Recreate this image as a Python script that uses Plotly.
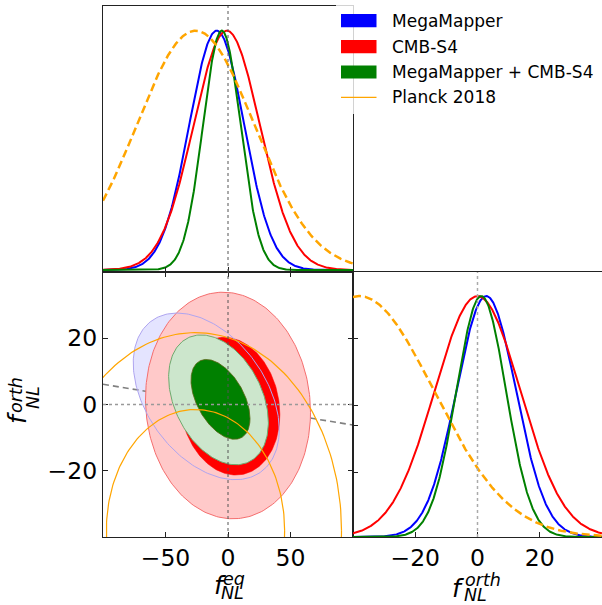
import numpy as np
import plotly.graph_objects as go

# ---------------- data ----------------
experiments = ["MegaMapper", "CMB-S4", "MegaMapper + CMB-S4", "Planck 2018"]
exp_colors = ["blue", "red", "green", "orange"]

# 1D marginals (peak-normalised Gaussians): mean and sigma
feq_mean = [-9.0, -1.0, -5.0, -26.0]
feq_sigma = [22.0, 26.5, 15.0, 47.0]
forth_mean = [2.8, 0.0, 1.2, -38.0]
forth_sigma = [9.6, 13.8, 8.0, 24.0]

# 2D contours: centre, half-extent in f_eq, half-extent in f_orth, correlation
contour_labels = ["MM 95%", "S4 95%", "S4 68%", "MM+S4 95%", "MM+S4 68%", "Planck 68%", "Planck 95%"]
contour_cx = [-17.4, 0.0, 1.5, -7.6, -6.0, -26.0, -26.0]
contour_cy = [2.45, -0.3, -0.5, 1.4, 1.55, -38.0, -38.0]
contour_hx = [58.4, 66.0, 40.0, 39.9, 23.6, 71.3, 116.8]
contour_hy = [25.15, 34.2, 20.8, 19.6, 12.05, 36.5, 59.7]
contour_rho = [-0.40, -0.06, -0.12, -0.35, -0.48, 0.0, 0.0]

# degeneracy direction (grey dashed line) end points
degen_feq = [-100.0, 100.0]
degen_forth = [6.1, -6.2]

fiducial = [0.0, 0.0]

feq_ticks = [-50, 0, 50]
forth_ticks = [-20, 0, 20]
forth1d_ticks = [-20, 0, 20]
forth1d_yticks = [0.268, 0.463, 0.546, 0.824]

# ---------------- helpers ----------------
def gauss(x, m, s):
    return np.exp(-0.5 * ((x - m) / s) ** 2)

def ellipse(i, n=240):
    t = np.linspace(0, 2 * np.pi, n)
    r = contour_rho[i]
    x = contour_cx[i] + contour_hx[i] * np.cos(t)
    y = contour_cy[i] + contour_hy[i] * (r * np.cos(t) + np.sqrt(1 - r * r) * np.sin(t))
    return x, y

fig = go.Figure()

# ---------------- top-left: f_eq marginal ----------------
xe = np.linspace(-100, 100, 500)
for k in [0, 1, 2]:
    fig.add_trace(go.Scatter(x=xe, y=gauss(xe, feq_mean[k], feq_sigma[k]), mode="lines",
                             line=dict(color=exp_colors[k], width=2), xaxis="x", yaxis="y",
                             hoverinfo="skip"))
fig.add_trace(go.Scatter(x=xe, y=gauss(xe, feq_mean[3], feq_sigma[3]), mode="lines",
                         line=dict(color="orange", width=2.5, dash="8px,4px"), xaxis="x", yaxis="y",
                         hoverinfo="skip"))

# ---------------- bottom-right: f_orth marginal ----------------
xo = np.linspace(-40, 40, 500)
for k in [0, 1, 2]:
    fig.add_trace(go.Scatter(x=xo, y=gauss(xo, forth_mean[k], forth_sigma[k]), mode="lines",
                             line=dict(color=exp_colors[k], width=2), xaxis="x3", yaxis="y3",
                             hoverinfo="skip"))
fig.add_trace(go.Scatter(x=xo, y=gauss(xo, forth_mean[3], forth_sigma[3]), mode="lines",
                         line=dict(color="orange", width=2.5, dash="8px,4px"), xaxis="x3", yaxis="y3",
                         hoverinfo="skip"))

# ---------------- bottom-left: 2D ----------------
def add_fill(i, fill, line_color, lw):
    x, y = ellipse(i)
    fig.add_trace(go.Scatter(x=x, y=y, mode="lines", fill="toself", fillcolor=fill,
                             line=dict(color=line_color, width=lw), xaxis="x2", yaxis="y2",
                             hoverinfo="skip"))

def add_line(i, line_color, lw):
    x, y = ellipse(i)
    fig.add_trace(go.Scatter(x=x, y=y, mode="lines",
                             line=dict(color=line_color, width=lw), xaxis="x2", yaxis="y2",
                             hoverinfo="skip"))

add_fill(0, "rgb(228,228,255)", "rgba(0,0,0,0)", 0)          # MegaMapper 95% fill
fig.add_trace(go.Scatter(x=degen_feq, y=degen_forth, mode="lines",
                         line=dict(color="grey", width=1.6, dash="6px,4px"),
                         xaxis="x2", yaxis="y2", hoverinfo="skip"))
add_fill(1, "rgb(255,201,201)", "rgb(245,110,110)", 1)        # CMB-S4 95%
add_fill(2, "rgb(255,0,0)", "rgb(255,0,0)", 0.5)              # CMB-S4 68%
add_line(0, "rgb(175,165,240)", 1)                            # MegaMapper 95% outline
add_fill(3, "rgb(204,230,204)", "rgb(110,170,110)", 1)        # combined 95%
add_fill(4, "rgb(0,128,0)", "rgb(90,100,20)", 0.8)            # combined 68%
add_line(5, "orange", 1.2)                                    # Planck 68%
add_line(6, "orange", 1.2)                                    # Planck 95%

# ---------------- reference (fiducial) lines ----------------
fig.add_shape(type="line", xref="x", yref="y domain", x0=fiducial[0], x1=fiducial[0], y0=0, y1=1,
              line=dict(color="#555", width=1, dash="dot"))
fig.add_shape(type="line", xref="x2", yref="y2 domain", x0=fiducial[0], x1=fiducial[0], y0=0, y1=1,
              line=dict(color="#555", width=1, dash="dot"))
fig.add_shape(type="line", xref="x2 domain", yref="y2", x0=0, x1=1, y0=fiducial[1], y1=fiducial[1],
              line=dict(color="#999", width=1.5, dash="dot"))
fig.add_shape(type="line", xref="x3", yref="y3 domain", x0=fiducial[1], x1=fiducial[1], y0=0, y1=1,
              line=dict(color="#aaa", width=1.5, dash="dot"))

# ---------------- layout ----------------
W, H = 602, 605
def px(x):
    return x / W
def py(y):
    return 1 - y / H

L0, L1, R1 = px(103), px(353), 1.0
T1, T0, B0 = py(6), py(272), py(537)

tickfont = dict(family="DejaVu Sans", size=23.5, color="black")
common = dict(showgrid=False, zeroline=False, showline=True, linecolor="#222", linewidth=1.3,
              ticks="inside", ticklen=5, tickwidth=1.2, tickcolor="#222", tickfont=tickfont)

fig.update_layout(
    width=W, height=H, margin=dict(l=0, r=0, t=0, b=0),
    plot_bgcolor="white", paper_bgcolor="white", showlegend=False,
    xaxis=dict(common, domain=[L0, L1], anchor="y", range=[-100, 100], tickvals=feq_ticks,
               showticklabels=False, mirror=True),
    yaxis=dict(common, domain=[T0, T1], anchor="x", range=[-0.008, 1.103], ticks="",
               showticklabels=False, mirror=True),
    xaxis2=dict(common, domain=[L0, L1], anchor="y2", range=[-100, 100], tickvals=feq_ticks,
                mirror="ticks"),
    yaxis2=dict(common, domain=[B0, T0], anchor="x2", range=[-40, 40], tickvals=forth_ticks,
                mirror="ticks"),
    xaxis3=dict(common, domain=[L1, R1], anchor="y3", range=[-40, 40], tickvals=forth1d_ticks,
                mirror=True),
    yaxis3=dict(common, domain=[B0, T0], anchor="x3", range=[0, 1.1], tickvals=forth1d_yticks,
                showticklabels=False, mirror=False),
)

# ---------------- legend (drawn in the upper-right corner) ----------------
fig.add_shape(type="rect", xref="paper", yref="paper", x0=px(336), x1=px(640), y0=py(114), y1=py(-5),
              fillcolor="rgba(255,255,255,0.8)", line=dict(width=0), layer="above")
leg_rows = [20.7, 46.7, 72.0, 97.3]
for k in range(4):
    yc = leg_rows[k]
    if k < 3:
        fig.add_shape(type="rect", xref="paper", yref="paper", x0=px(341), x1=px(376.5),
                      y0=py(yc + 6.6), y1=py(yc - 6.6), fillcolor=exp_colors[k],
                      line=dict(width=0), layer="above")
    else:
        fig.add_shape(type="line", xref="paper", yref="paper", x0=px(341), x1=px(376.5),
                      y0=py(yc), y1=py(yc), line=dict(color="orange", width=1.2), layer="above")
    fig.add_annotation(x=px(390), y=py(yc), xref="paper", yref="paper", text=experiments[k],
                       showarrow=False, xanchor="left", yanchor="middle",
                       font=dict(family="DejaVu Sans", size=17, color="black"))

# ---------------- axis labels (math-style f with stacked scripts) ----------------
lab = dict(family="DejaVu Sans", color="black")
def label(xc, yc, text, size, angle=0):
    fig.add_annotation(x=px(xc), y=py(yc), xref="paper", yref="paper", text=text, showarrow=False,
                       xanchor="center", yanchor="middle", textangle=angle,
                       font=dict(lab, size=size))

# f_NL^eq
label(220, 585, "<i>f</i>", 25)
label(234, 579, "<i>eq</i>", 17.5)
label(232, 593, "<i>NL</i>", 17.5)
# f_NL^orth (bottom-right)
label(458, 588, "<i>f</i>", 25)
label(483, 580, "<i>orth</i>", 17.5)
label(475, 595, "<i>NL</i>", 17.5)
# f_NL^orth (rotated, y-axis of 2D panel)
label(17, 418, "<i>f</i>", 25, -90)
label(16, 395, "<i>orth</i>", 17.5, -90)
label(33, 398, "<i>NL</i>", 17.5, -90)

fig.write_html("out.html", config={"displayModeBar": False},
               post_script="document.body.style.margin='0';document.body.style.overflow='hidden';")
